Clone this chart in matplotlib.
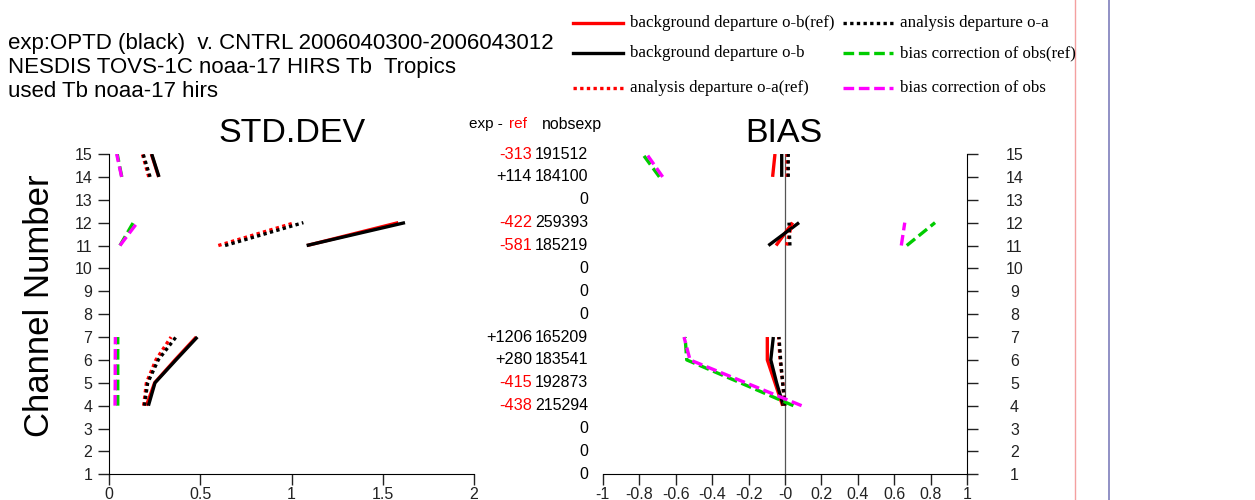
import numpy as np
import matplotlib.pyplot as plt
from matplotlib.lines import Line2D
from matplotlib.transforms import blended_transform_factory

nan = np.nan
channels = np.arange(1, 16)

# std dev (channels 1..15, nan where no obs)
std_ob_ref = [nan, nan, nan, 0.205, 0.250, 0.362, 0.478, nan, nan, nan, 1.085, 1.585, nan, 0.272, 0.232]
std_ob     = [nan, nan, nan, 0.216, 0.252, 0.367, 0.484, nan, nan, nan, 1.083, 1.622, nan, 0.274, 0.234]
std_oa_ref = [nan, nan, nan, 0.190, 0.205, 0.257, 0.340, nan, nan, nan, 0.599, 1.019, nan, 0.218, 0.183]
std_oa     = [nan, nan, nan, 0.194, 0.212, 0.270, 0.367, nan, nan, nan, 0.636, 1.065, nan, 0.225, 0.187]
std_bc_ref = [nan, nan, nan, 0.048, 0.048, 0.048, 0.048, nan, nan, nan, 0.060, 0.133, nan, 0.070, 0.045]
std_bc     = [nan, nan, nan, 0.033, 0.034, 0.034, 0.035, nan, nan, nan, 0.060, 0.155, nan, 0.069, 0.042]

# bias
bias_ob_ref = [nan, nan, nan, -0.013, -0.055, -0.097, -0.097, nan, nan, nan, -0.049, 0.042, nan, -0.068, -0.055]
bias_ob     = [nan, nan, nan, -0.009, -0.046, -0.078, -0.064, nan, nan, nan, -0.091, 0.077, nan, -0.018, -0.018]
bias_oa_ref = [nan, nan, nan, -0.003, -0.012, -0.027, -0.035, nan, nan, nan, 0.009, 0.038, nan, 0.012, 0.012]
bias_oa     = [nan, nan, nan, 0.000, -0.013, -0.024, -0.033, nan, nan, nan, 0.027, 0.022, nan, 0.018, 0.018]
bias_bc_ref = [nan, nan, nan, 0.046, -0.245, -0.539, -0.548, nan, nan, nan, 0.668, 0.823, nan, -0.689, -0.781]
bias_bc     = [nan, nan, nan, 0.091, -0.215, -0.521, -0.554, nan, nan, nan, 0.638, 0.657, nan, -0.671, -0.759]

# exp-ref difference and number of obs
exp_minus_ref = ["", "", "", "-438", "-415", "+280", "+1206", "", "", "", "-581", "-422", "", "+114", "-313"]
nobsexp = [0, 0, 0, 215294, 192873, 183541, 165209, 0, 0, 0, 185219, 259393, 0, 184100, 191512]

header = ["exp:OPTD (black)  v. CNTRL 2006040300-2006043012",
          "NESDIS TOVS-1C noaa-17 HIRS Tb  Tropics",
          "used Tb noaa-17 hirs"]

W, H = 1255, 500
def fx(x): return x / W
def fy(y): return 1 - y / H

plt.rcParams['font.family'] = ['Liberation Sans', 'DejaVu Sans']

RED, GREEN, MAG = "#ff0000", "#00cc00", "#ff00ff"
LW = 2.4
DOT = (0, (1, 1))
DASH = (0, (3.2, 1.4))
styles = [
    ("background departure o-b(ref)", RED, "-"),
    ("background departure o-b", "black", "-"),
    ("analysis departure o-a(ref)", RED, DOT),
    ("analysis departure o-a", "black", DOT),
    ("bias correction of obs(ref)", GREEN, DASH),
    ("bias correction of obs", MAG, DASH),
]

fig = plt.figure(figsize=(12.55, 5), dpi=100)
ax1 = fig.add_axes([fx(109), fy(474.3), fx(474) - fx(109), fy(154) - fy(474.3)])
ax2 = fig.add_axes([fx(602.7), fy(474.3), fx(967.3) - fx(602.7), fy(154) - fy(474.3)])

for ax, series in ((ax1, [std_ob_ref, std_ob, std_oa_ref, std_oa, std_bc_ref, std_bc]),
                   (ax2, [bias_ob_ref, bias_ob, bias_oa_ref, bias_oa, bias_bc_ref, bias_bc])):
    for (lab, c, ls), vals in zip(styles, series):
        ax.plot(vals, channels, color=c, linestyle=ls, linewidth=LW, solid_capstyle='butt')
    ax.set_ylim(1, 15)
    ax.set_yticks(channels)
    ax.spines["top"].set_visible(False)
    ax.tick_params(direction='out', length=8, width=1, labelsize=11.5, colors='#222222')
    ax.tick_params(axis='x', pad=1)

ax1.set_xlim(0, 2)
ax1.set_xticks([0, 0.5, 1, 1.5, 2])
ax1.set_xticklabels(["0", "0.5", "1", "1.5", "2"])
ax1.spines["right"].set_visible(False)
ax1.tick_params(axis='y', pad=4)

ax2.set_xlim(-1, 1)
xt = np.round(np.arange(-1, 1.01, 0.2), 1)
ax2.set_xticks(xt)
ax2.set_xticklabels(["%g" % v for v in xt])
ax2.spines["left"].set_visible(False)
ax2.yaxis.tick_right()
ax2.tick_params(axis='y', pad=26)
for t in ax2.get_yticklabels():
    t.set_horizontalalignment('center')
ax2.axvline(0, color="#555555", linewidth=0.9, zorder=0)

# titles
fig.text(fx(292), fy(133), "STD.DEV", fontsize=24.5, ha='center', va='center')
fig.text(fx(784), fy(133), "BIAS", fontsize=24.5, ha='center', va='center')
fig.text(fx(40), fy(306), "Channel Number", fontsize=25, rotation=90, ha='center', va='center')

# header
for i, line in enumerate(header):
    fig.text(fx(8), fy(44 + 24 * i), line, fontsize=16, va='center')

# exp-ref / nobs column
tr = blended_transform_factory(fig.transFigure, ax1.transData)
fig.text(fx(503), fy(124), "exp -", fontsize=11, ha='right', va='center')
fig.text(fx(509), fy(124), "ref", fontsize=11, ha='left', va='center', color=RED)
fig.text(fx(602), fy(124), "nobsexp", fontsize=11.4, ha='right', va='center')
for ch, d, n in zip(channels, exp_minus_ref, nobsexp):
    if d:
        ax1.text(fx(532), ch, d, transform=tr, fontsize=11.8, ha='right', va='center',
                 color=RED if d.startswith('-') else 'black')
    ax1.text(fx(588), ch, str(n), transform=tr, fontsize=11.5, ha='right', va='center')

# legend
rows = [23, 53, 88]
for i, (lab, c, ls) in enumerate(styles):
    if i < 3:
        col, row = 0, i
    elif i == 3:
        col, row = 1, 0
    else:
        col, row = 1, i - 3
    x0 = 573 if col == 0 else 843
    y = rows[row]
    fig.add_artist(Line2D([fx(x0), fx(x0 + 50)], [fy(y), fy(y)], color=c, linestyle=ls,
                          linewidth=LW, transform=fig.transFigure))
    fig.text(fx(x0 + 57), fy(y), lab, fontsize=12.2, family='Liberation Serif', va='center')

# side lines
fig.add_artist(Line2D([fx(1075), fx(1075)], [0, 1], color="#f4a0a0", linewidth=1, transform=fig.transFigure))
fig.add_artist(Line2D([fx(1109), fx(1109)], [0, 1], color="#8888c0", linewidth=1.3, transform=fig.transFigure))

fig.savefig("out.png", dpi=100)
